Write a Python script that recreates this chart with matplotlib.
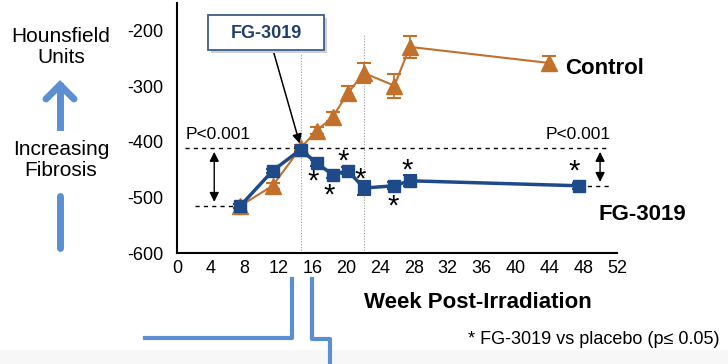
import matplotlib
matplotlib.use("Agg")
import matplotlib.pyplot as plt
from matplotlib.lines import Line2D
from matplotlib.patches import Rectangle

plt.rcParams["font.family"] = ["Liberation Sans", "DejaVu Sans"]
plt.rcParams["axes.unicode_minus"] = False

# weeks post-irradiation and mean Hounsfield units
ctrl_weeks = [7.5, 11.3, 14.6, 16.5, 18.4, 20.2, 22.1, 25.7, 27.5, 44.0]
ctrl_hu = [-515, -479, -411, -380, -355, -312, -276, -299, -229, -258]
ctrl_err = [4, 5, 5, 6, 8, 12, 18, 22, 20, 12]

fg_weeks = [7.5, 11.3, 14.6, 16.5, 18.4, 20.2, 22.1, 25.7, 27.5, 47.5]
fg_hu = [-515, -452, -414, -438, -459, -452, -483, -479, -470, -479]
fg_err = [4, 4, 5, 5, 6, 6, 12, 6, 10, 5]

# significance stars (FG-3019 vs placebo)
star_x = [16.1, 18.0, 19.6, 21.7, 25.5, 27.2, 46.9]
star_y = [-472, -497, -436, -467, -517, -452, -454]

x_ticks = list(range(0, 53, 4))
y_ticks = [-600, -500, -400, -300, -200]

ORANGE = "#c2702a"
NAVY = "#1f4a8a"
LIGHT_BLUE = "#5b8fd2"

W, H = 728, 364
fig = plt.figure(figsize=(W / 100, H / 100), dpi=100)
ax = fig.add_axes([177 / W, 1 - 253 / H, (617 - 177) / W, 250 / H])


def fx(px):
    return px / W


def fy(py):
    return 1 - py / H


# treatment window markers
ax.vlines(14.6, -600, -240, colors="#999999", linestyles=(0, (1, 1.5)), lw=0.8)
ax.vlines(22.1, -600, -205, colors="#999999", linestyles=(0, (1, 1.5)), lw=0.8)

ax.errorbar(ctrl_weeks, ctrl_hu, yerr=ctrl_err, color=ORANGE, lw=1.5,
            marker="^", ms=11, capsize=5, capthick=1.5, elinewidth=1.2, zorder=3)
ax.errorbar(fg_weeks, fg_hu, yerr=fg_err, color=NAVY, lw=2.5,
            marker="s", ms=9, capsize=5, capthick=1.5, elinewidth=1.2, zorder=4)

for sx, sy in zip(star_x, star_y):
    ax.text(sx, sy, "*", fontsize=21, ha="center", va="center", color="black")

# reference levels and P-value brackets
ax.plot([1.0, 51.2], [ctrl_hu[2], ctrl_hu[2]], ls=(0, (3, 3)), color="black", lw=1)
ax.plot([2.1, fg_weeks[0]], [fg_hu[0], fg_hu[0]], ls=(0, (3, 3)), color="black", lw=1)
ax.plot([fg_weeks[-1], 51.2], [fg_hu[-1], fg_hu[-1]], ls=(0, (3, 3)), color="black", lw=1)
ax.annotate("", xy=(4.4, fg_hu[0] + 2), xytext=(4.4, ctrl_hu[2] - 2),
            arrowprops=dict(arrowstyle="<|-|>", color="black", lw=1,
                            mutation_scale=14))
ax.annotate("", xy=(50.0, fg_hu[-1] + 2), xytext=(50.0, ctrl_hu[2] - 2),
            arrowprops=dict(arrowstyle="<|-|>", color="black", lw=1,
                            mutation_scale=14))
ax.text(1.0, -401, "P<0.001", fontsize=12.5, ha="left", va="bottom")
ax.text(51.3, -401, "P<0.001", fontsize=12.5, ha="right", va="bottom")

ax.set_xlim(0, 52)
ax.set_ylim(-600, -150)
ax.set_xticks(x_ticks)
ax.set_yticks(y_ticks)
ax.tick_params(length=0, labelsize=13, pad=5)
for side in ["top", "right"]:
    ax.spines[side].set_visible(False)
for side in ["left", "bottom"]:
    ax.spines[side].set_linewidth(1.5)
ax.yaxis.set_tick_params(pad=10)

# series labels
fig.text(fx(565), fy(68), "Control", fontsize=16, fontweight="bold", va="center")
fig.text(fx(598), fy(215), "FG-3019", fontsize=16, fontweight="bold", va="center")
fig.text(fx(478), fy(303), "Week Post-Irradiation", fontsize=16,
         fontweight="bold", ha="center", va="center")
fig.text(fx(720), fy(340), "* FG-3019 vs placebo (p\u2264 0.05)", fontsize=13,
         ha="right", va="center")

# treatment callout box
fig.add_artist(Rectangle((fx(211), fy(53)), fx(116), 35 / H, transform=fig.transFigure,
                         facecolor="#d0d0d0", edgecolor="none"))
fig.add_artist(Rectangle((fx(208), fy(50)), fx(116), 35 / H, transform=fig.transFigure,
                         facecolor="white", edgecolor="#3d5f8a", lw=1.3))
fig.text(fx(266), fy(33), "FG-3019", fontsize=13, fontweight="bold",
         color="#1f3f6e", ha="center", va="center")
ax.annotate("", xy=(ctrl_weeks[2], ctrl_hu[2] + 3), xycoords="data",
            xytext=(fx(273), fy(50)), textcoords="figure fraction",
            arrowprops=dict(arrowstyle="-|>", color="black", lw=1.1,
                            mutation_scale=14))

# left-hand axis description
fig.text(fx(61), fy(47), "Hounsfield\nUnits", fontsize=15, ha="center",
         va="center", linespacing=1.15)
fig.text(fx(61), fy(160), "Increasing\nFibrosis", fontsize=15, ha="center",
         va="center", linespacing=1.15)
fig.add_artist(Line2D([fx(60), fx(60)], [fy(127), fy(86)], transform=fig.transFigure,
                      color=LIGHT_BLUE, lw=5))
fig.add_artist(Line2D([fx(46), fx(60), fx(74)], [fy(99), fy(85), fy(99)],
                      transform=fig.transFigure, color=LIGHT_BLUE, lw=5,
                      solid_capstyle="round", solid_joinstyle="miter"))
fig.add_artist(Line2D([fx(60), fx(60)], [fy(196), fy(248)], transform=fig.transFigure,
                      color=LIGHT_BLUE, lw=5, solid_capstyle="round"))

# bracket lines running into the panel below
fig.add_artist(Line2D([fx(145), fx(292), fx(292)], [fy(338), fy(338), fy(279)],
                      transform=fig.transFigure, color=LIGHT_BLUE, lw=3))
fig.add_artist(Line2D([fx(312), fx(312), fx(330), fx(330)],
                      [fy(279), fy(339), fy(339), fy(364)],
                      transform=fig.transFigure, color=LIGHT_BLUE, lw=3))
fig.add_artist(Rectangle((0, 0), 1, 14 / H, transform=fig.transFigure,
                         facecolor="#f7f7f7", edgecolor="none", zorder=-1))

fig.savefig("out.png", dpi=100)
